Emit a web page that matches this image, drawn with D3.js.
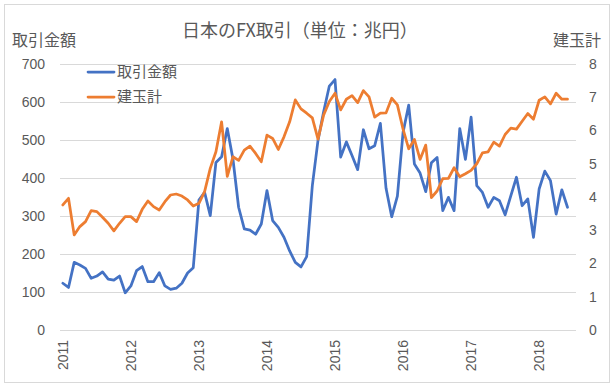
<!DOCTYPE html>
<html>
<head>
<meta charset="utf-8">
<script src="https://cdn.jsdelivr.net/npm/d3@7"></script>
<style>
    body { margin: 0; background: #fff; }
    svg text { font-family: "Liberation Sans", "Noto Sans CJK JP", sans-serif; fill: #595959; }
    .jp { font-family: "Noto Sans CJK JP", sans-serif; }
</style>
</head>
<body>
<svg width="615" height="388"></svg>
<script>
// monthly, jan 2011 .. jun 2018
const months = d3.timeMonths(new Date(2011, 0, 1), new Date(2018, 6, 1));
const yearLabels = ['2011', '2012', '2013', '2014', '2015', '2016', '2017', '2018'];

// 取引金額 (left axis, 兆円)
const torihiki = [
    123, 112, 178, 171, 162, 136, 142, 153, 134, 131, 142, 98,
    116, 156, 167, 127, 127, 151, 116, 107, 110, 123, 150, 164,
    342, 362, 301, 441, 456, 530, 450, 323, 266, 263, 252, 279,
    367, 288, 270, 244, 208, 178, 166, 193, 380, 499, 575, 642,
    659, 455, 495, 459, 422, 527, 477, 485, 544, 373, 298, 352,
    520, 592, 437, 413, 364, 440, 454, 314, 349, 314, 530, 449,
    560, 380, 362, 323, 349, 340, 303, 353, 402, 327, 345, 244,
    371, 418, 393, 305, 369, 323
];

// 建玉計 (right axis, 兆円)
const tategyoku = [
    3.76, 3.96, 2.86, 3.11, 3.26, 3.59, 3.56, 3.39, 3.21, 2.98, 3.21, 3.41,
    3.41, 3.26, 3.63, 3.88, 3.71, 3.61, 3.86, 4.06, 4.09, 4.03, 3.91, 3.73,
    3.81, 4.16, 4.86, 5.36, 6.26, 4.62, 5.21, 5.10, 5.41, 5.53, 5.31, 5.06,
    5.86, 5.76, 5.43, 5.81, 6.26, 6.92, 6.65, 6.52, 6.38, 5.74, 6.47, 6.87,
    7.12, 6.62, 6.94, 7.05, 6.84, 7.20, 7.01, 6.40, 6.52, 6.53, 6.97, 6.77,
    6.04, 5.45, 5.73, 5.13, 5.56, 3.98, 4.18, 4.55, 4.56, 4.88, 4.61, 4.70,
    4.80, 5.00, 5.33, 5.36, 5.65, 5.53, 5.88, 6.07, 6.04, 6.28, 6.51, 6.34,
    6.91, 7.01, 6.80, 7.12, 6.94, 6.94
];

const leftTicks = [0, 100, 200, 300, 400, 500, 600, 700];
const rightTicks = [0, 1, 2, 3, 4, 5, 6, 7, 8];

const series = [
    { name: '取引金額', values: torihiki, color: '#4472C4', axis: 'left' },
    { name: '建玉計', values: tategyoku, color: '#ED7D31', axis: 'right' }
];

const svg = d3.select('svg');
const plot = { left: 60, right: 576, top: 64, bottom: 330 };

// outer frame like the excel chart area
svg.append('rect')
    .attr('x', 4.5).attr('y', 4.5)
    .attr('width', 605).attr('height', 378)
    .attr('fill', '#fff')
    .attr('stroke', '#D9D9D9');

const x = d3.scaleLinear()
    .domain([-0.5, months.length + 0.5])
    .range([plot.left, plot.right]);

const yLeft = d3.scaleLinear()
    .domain([0, 700])
    .range([plot.bottom, plot.top]);

const yRight = d3.scaleLinear()
    .domain([0, 8])
    .range([plot.bottom, plot.top]);

// gridlines
svg.append('g')
    .selectAll('line')
    .data(leftTicks)
    .join('line')
    .attr('x1', plot.left).attr('x2', plot.right)
    .attr('y1', d => yLeft(d) + 0.5).attr('y2', d => yLeft(d) + 0.5)
    .attr('stroke', '#D9D9D9');

// left axis
const gl = svg.append('g')
    .attr('transform', 'translate(' + plot.left + ',0)')
    .call(d3.axisLeft(yLeft).tickValues(leftTicks).tickSize(0).tickPadding(15));
gl.select('.domain').remove();
gl.selectAll('text').style('font-size', '14px');

// right axis
const gr = svg.append('g')
    .attr('transform', 'translate(' + plot.right + ',0)')
    .call(d3.axisRight(yRight).tickValues(rightTicks).tickSize(0).tickPadding(13));
gr.select('.domain').remove();
gr.selectAll('text').style('font-size', '14px');

// year labels, rotated
svg.append('g')
    .selectAll('text')
    .data(yearLabels)
    .join('text')
    .attr('transform', (d, i) => 'translate(' + (x(i * 12) + 5) + ',' + (plot.bottom + 10) + ') rotate(-90)')
    .attr('text-anchor', 'end')
    .style('font-size', '14px')
    .text(d => d);

// lines
const line = function (s) {
    const yScale = s.axis === 'left' ? yLeft : yRight;
    return d3.line()
        .x((d, i) => x(i))
        .y(d => yScale(d))(s.values);
};

svg.append('g')
    .selectAll('path')
    .data(series)
    .join('path')
    .attr('d', line)
    .attr('fill', 'none')
    .attr('stroke', d => d.color)
    .attr('stroke-width', 2.75)
    .attr('stroke-linejoin', 'round')
    .attr('stroke-linecap', 'round');

// legend
const legend = svg.append('g')
    .selectAll('g')
    .data(series)
    .join('g')
    .attr('transform', (d, i) => 'translate(88,' + (72 + i * 25) + ')');
legend.append('line')
    .attr('x1', 0).attr('x2', 26)
    .attr('stroke', d => d.color)
    .attr('stroke-width', 2.75)
    .attr('stroke-linecap', 'round');
legend.append('text')
    .attr('class', 'jp')
    .attr('x', 29).attr('dy', '0.35em')
    .style('font-size', '15px')
    .text(d => d.name);

// titles
svg.append('text')
    .attr('class', 'jp')
    .attr('x', 300).attr('y', 37)
    .attr('text-anchor', 'middle')
    .style('font-size', '18px')
    .text('日本のFX取引（単位：兆円）');

svg.append('text')
    .attr('class', 'jp')
    .attr('x', 12).attr('y', 46)
    .style('font-size', '16px')
    .text('取引金額');

svg.append('text')
    .attr('class', 'jp')
    .attr('x', 601).attr('y', 46)
    .attr('text-anchor', 'end')
    .style('font-size', '16px')
    .text('建玉計');
</script>
</body>
</html>
